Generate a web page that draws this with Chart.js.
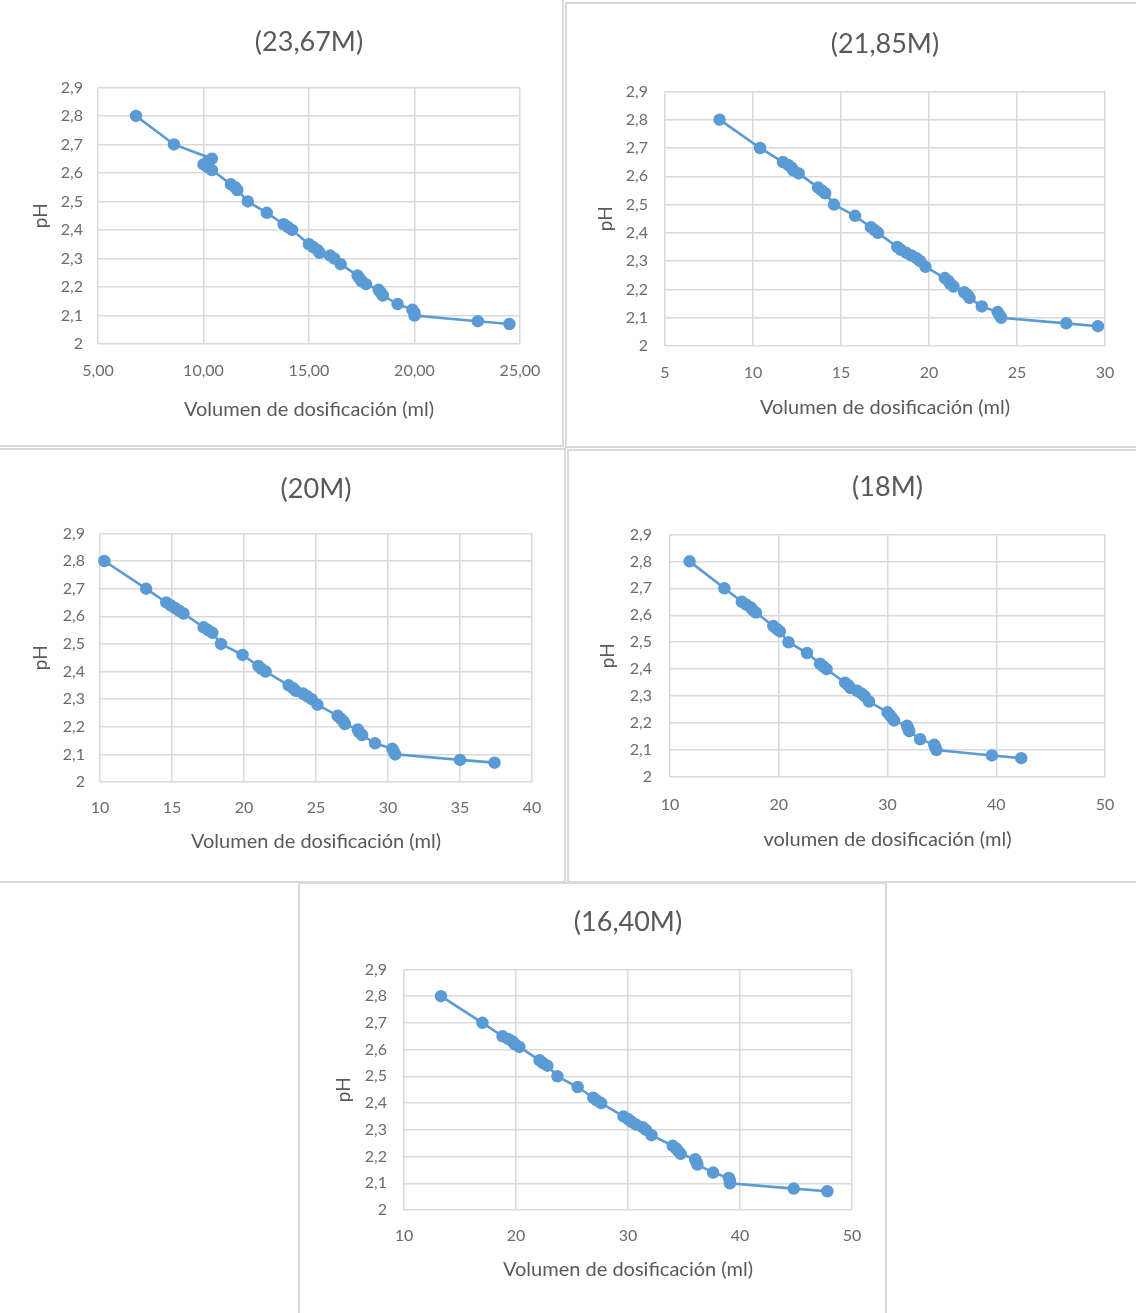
<!DOCTYPE html>
<html lang="es">
<head>
	<meta charset="UTF-8">
	<title>pH vs volumen de dosificación</title>
	<style>
	*{
		margin: 0;
		padding: 0;
		box-sizing: border-box;
	}
	body{
		width: 1136px;
		height: 1313px;
		background: #fff;
		position: relative;
		overflow: hidden;
	}
	.panel{
		position: absolute;
		border: 2px solid #d9d9d9;
	}
	canvas{
		position: absolute;
	}
	</style>
</head>
<body>
	<div class="panel" style="left:-2px;top:-2px;width:566px;height:449px"></div>
	<div class="panel" style="left:565px;top:2px;width:573px;height:446px"></div>
	<div class="panel" style="left:-2px;top:448px;width:568px;height:435px"></div>
	<div class="panel" style="left:567px;top:449px;width:571px;height:434px"></div>
	<div class="panel" style="left:298px;top:882px;width:589px;height:433px"></div>

	<canvas id="c1" width="562" height="445" style="left:0;top:0"></canvas>
	<canvas id="c2" width="566" height="440" style="left:568px;top:5px"></canvas>
	<canvas id="c3" width="563" height="430" style="left:0;top:451px"></canvas>
	<canvas id="c4" width="564" height="429" style="left:570px;top:452px"></canvas>
	<canvas id="c5" width="583" height="428" style="left:301px;top:885px"></canvas>

<script src="https://cdn.jsdelivr.net/npm/chart.js"></script>

<script>
// pH (same readings in all five curves)
const ph = [2.80, 2.70, 2.65, 2.64, 2.63, 2.62, 2.61, 2.56, 2.55, 2.54, 2.50, 2.46,
	2.42, 2.41, 2.40, 2.35, 2.34, 2.33, 2.32, 2.31, 2.30, 2.28, 2.24, 2.23, 2.22, 2.21,
	2.19, 2.18, 2.17, 2.14, 2.12, 2.11, 2.10, 2.08, 2.07];

// volumen de dosificación (ml), one list per concentration
const vol2367 = [6.8, 8.6, 10.4, 10.2, 10.0, 10.2, 10.4, 11.3, 11.5, 11.6, 12.1, 13.0,
	13.8, 14.0, 14.2, 15.0, 15.2, 15.4, 15.5, 16.0, 16.2, 16.5, 17.3, 17.4, 17.5, 17.7,
	18.3, 18.4, 18.5, 19.2, 19.9, 20.0, 20.0, 23.0, 24.5];
const vol2185 = [8.1, 10.4, 11.7, 12.0, 12.2, 12.3, 12.6, 13.7, 13.9, 14.1, 14.6, 15.8,
	16.7, 16.9, 17.1, 18.2, 18.4, 18.7, 19.0, 19.3, 19.5, 19.8, 20.9, 21.1, 21.2, 21.4,
	22.0, 22.2, 22.3, 23.0, 23.9, 24.0, 24.1, 27.8, 29.6];
const vol20 = [10.3, 13.2, 14.6, 14.9, 15.2, 15.5, 15.8, 17.2, 17.5, 17.8, 18.4, 19.9,
	21.0, 21.2, 21.5, 23.1, 23.4, 23.6, 24.1, 24.4, 24.7, 25.1, 26.5, 26.7, 26.9, 27.0,
	27.9, 28.0, 28.2, 29.1, 30.3, 30.4, 30.5, 35.0, 37.4];
const vol18 = [11.8, 15.0, 16.6, 17.0, 17.4, 17.6, 17.9, 19.5, 19.8, 20.1, 20.9, 22.6,
	23.8, 24.1, 24.4, 26.1, 26.4, 26.6, 27.2, 27.6, 27.9, 28.3, 30.0, 30.2, 30.4, 30.6,
	31.8, 31.9, 32.0, 33.0, 34.3, 34.4, 34.5, 39.6, 42.3];
const vol1640 = [13.3, 17.0, 18.8, 19.3, 19.7, 19.9, 20.3, 22.1, 22.4, 22.8, 23.7, 25.5,
	26.9, 27.2, 27.6, 29.6, 30.0, 30.3, 30.7, 31.3, 31.6, 32.1, 34.0, 34.3, 34.5, 34.7,
	36.0, 36.1, 36.2, 37.6, 39.0, 39.1, 39.1, 44.8, 47.8];

// tick labels
const yTicks = [2, 2.1, 2.2, 2.3, 2.4, 2.5, 2.6, 2.7, 2.8, 2.9];
const xTicks2367 = [5, 10, 15, 20, 25];
const xTicks2185 = [5, 10, 15, 20, 25, 30];
const xTicks20 = [10, 15, 20, 25, 30, 35, 40];
const xTicks18 = [10, 20, 30, 40, 50];
const xTicks1640 = [10, 20, 30, 40, 50];

const blue = '#5b9bd5';
const grey = '#d9d9d9';
const txt = '#6b6b6b';
const fam = 'Lato, "Open Sans", sans-serif';

function comma(v, dec){
	return (dec ? v.toFixed(dec) : String(Math.round(v * 10) / 10)).replace('.', ',');
}

// lay: sizes used to place the plot area like in the picture
function makeChart(id, title, vols, xTicks, xDec, xLabel, lay){
	const pts = vols.map((v, i) => ({x: v, y: ph[i]}));
	return new Chart(document.getElementById(id), {
		type: 'scatter',
		data: {
			datasets: [{
				data: pts,
				showLine: true,
				borderColor: blue,
				backgroundColor: blue,
				borderWidth: 2.6,
				pointRadius: 5.5,
				pointBorderWidth: 1.5,
				pointBackgroundColor: blue,
				pointBorderColor: blue,
				clip: false
			}]
		},
		options: {
			responsive: false,
			animation: false,
			devicePixelRatio: 1,
			layout: {padding: {top: 0, left: 0, bottom: 0, right: lay.right}},
			plugins: {
				legend: {display: false},
				tooltip: {enabled: false},
				title: {
					display: true,
					text: title,
					fullSize: false,
					color: '#595959',
					font: {family: fam, size: 27, weight: 'normal'},
					padding: {top: lay.tTop - 2, bottom: lay.tBottom - 2}
				}
			},
			scales: {
				x: {
					type: 'linear',
					min: xTicks[0],
					max: xTicks[xTicks.length - 1],
					afterBuildTicks: s => { s.ticks = xTicks.map(v => ({value: v})); },
					afterFit: s => { s.height = lay.xH; },
					grid: {color: grey, lineWidth: 1.5, drawTicks: false},
					border: {display: false},
					ticks: {
						color: txt,
						padding: lay.xPad - 1,
						maxRotation: 0,
						font: {family: fam, size: 16},
						callback: v => comma(v, xDec)
					},
					title: {
						display: true,
						text: xLabel,
						color: '#595959',
						font: {family: fam, size: 20},
						padding: {top: 0, bottom: lay.xtPad - 2}
					}
				},
				y: {
					type: 'linear',
					min: 2,
					max: 2.9,
					afterBuildTicks: s => { s.ticks = yTicks.map(v => ({value: v})); },
					afterFit: s => { s.width = lay.yW; },
					grid: {color: grey, lineWidth: 1.5, drawTicks: false},
					border: {display: false},
					ticks: {
						color: txt,
						padding: lay.yPad,
						font: {family: fam, size: 16},
						callback: v => comma(v, 0)
					},
					title: {
						display: true,
						text: 'pH',
						color: '#595959',
						font: {family: fam, size: 19},
						padding: {top: lay.ytPad - 1, bottom: 0}
					}
				}
			}
		}
	});
}

makeChart('c1', '(23,67M)', vol2367, xTicks2367, 2, 'Volumen de dosificación (ml)',
	{right: 42, tTop: 28, tBottom: 31, xH: 101, xPad: 18, xtPad: 25, yW: 98, yPad: 15, ytPad: 30});
makeChart('c2', '(21,85M)', vol2185, xTicks2185, 0, 'Volumen de dosificación (ml)',
	{right: 29, tTop: 25, tBottom: 33, xH: 99, xPad: 18, xtPad: 27, yW: 97, yPad: 17, ytPad: 27});
makeChart('c3', '(20M)', vol20, xTicks20, 0, 'Volumen de dosificación (ml)',
	{right: 31, tTop: 24, tBottom: 30, xH: 99, xPad: 17, xtPad: 29, yW: 100, yPad: 15, ytPad: 30});
makeChart('c4', '(18M)', vol18, xTicks18, 0, 'volumen de dosificación (ml)',
	{right: 29, tTop: 21, tBottom: 33, xH: 104, xPad: 19, xtPad: 31, yW: 100, yPad: 18, ytPad: 27});
makeChart('c5', '(16,40M)', vol1640, xTicks1640, 0, 'Volumen de dosificación (ml)',
	{right: 32, tTop: 23, tBottom: 33, xH: 103, xPad: 17, xtPad: 33, yW: 103, yPad: 17, ytPad: 32});
</script>
</body>
</html>
